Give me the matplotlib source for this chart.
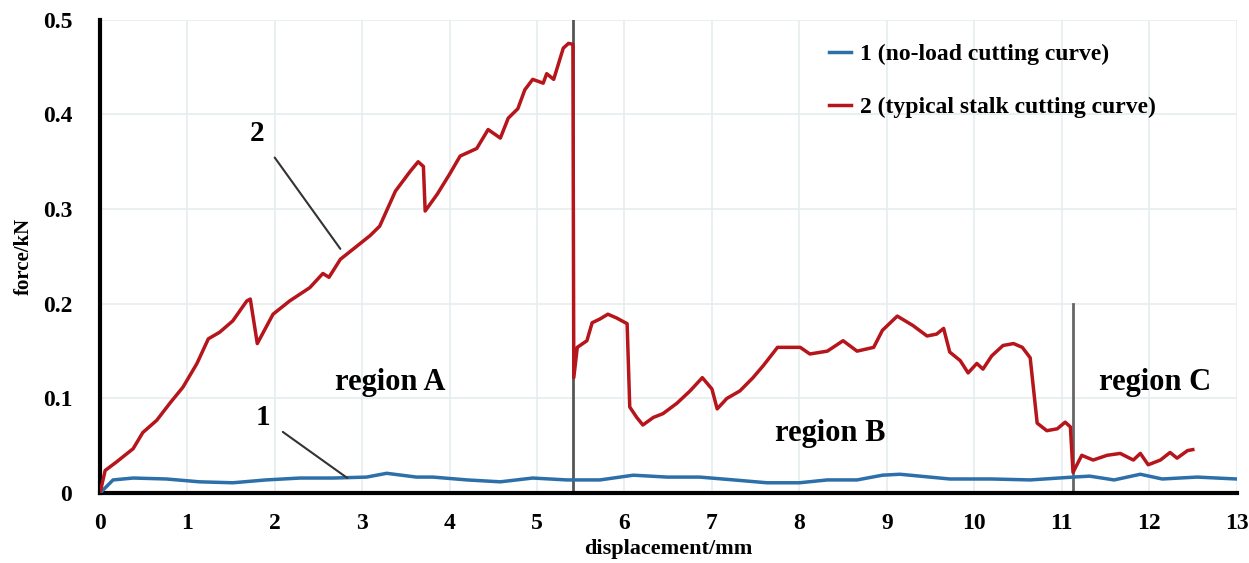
import matplotlib.pyplot as plt

# curve 2 - typical stalk cutting
stalkX = [0, 0.06, 0.19, 0.38, 0.49, 0.65, 0.8, 0.95, 1.11, 1.24, 1.37, 1.52, 1.68, 1.72, 1.8,
          1.98, 2.17, 2.4, 2.55, 2.62, 2.75, 2.9, 3.09, 3.2, 3.38, 3.55, 3.64, 3.7, 3.72, 3.86,
          4.0, 4.12, 4.31, 4.44, 4.58, 4.67, 4.78, 4.86, 4.95, 5.07, 5.11, 5.19, 5.3, 5.36, 5.41,
          5.42, 5.46, 5.57, 5.63, 5.72, 5.81, 5.91, 6.03, 6.06, 6.14, 6.21, 6.33, 6.44, 6.6,
          6.75, 6.89, 7.0, 7.06, 7.17, 7.32, 7.47, 7.59, 7.75, 7.89, 8.01, 8.12, 8.32, 8.5, 8.66,
          8.85, 8.95, 9.12, 9.3, 9.46, 9.57, 9.65, 9.72, 9.84, 9.93, 10.03, 10.1, 10.2, 10.33,
          10.45, 10.55, 10.64, 10.72, 10.83, 10.95, 11.04, 11.1, 11.13, 11.23, 11.36, 11.52,
          11.67, 11.82, 11.9, 11.99, 12.13, 12.24, 12.32, 12.44, 12.5]
stalkY = [0, 0.024, 0.033, 0.047, 0.064, 0.077, 0.095, 0.112, 0.137, 0.163, 0.17, 0.182, 0.203,
          0.205, 0.158, 0.189, 0.203, 0.217, 0.232, 0.228, 0.247, 0.258, 0.272, 0.282, 0.319,
          0.34, 0.35, 0.345, 0.298, 0.316, 0.337, 0.356, 0.364, 0.384, 0.375, 0.396, 0.406,
          0.426, 0.437, 0.433, 0.443, 0.437, 0.47, 0.475, 0.474, 0.122, 0.154, 0.161, 0.18,
          0.184, 0.189, 0.185, 0.179, 0.091, 0.08, 0.072, 0.08, 0.084, 0.095, 0.108, 0.122,
          0.11, 0.089, 0.1, 0.108, 0.122, 0.135, 0.154, 0.154, 0.154, 0.147, 0.15, 0.161, 0.15,
          0.154, 0.172, 0.187, 0.177, 0.166, 0.168, 0.174, 0.149, 0.14, 0.127, 0.137, 0.131,
          0.145, 0.156, 0.158, 0.154, 0.143, 0.074, 0.066, 0.068, 0.075, 0.07, 0.022, 0.04,
          0.035, 0.04, 0.042, 0.035, 0.042, 0.03, 0.035, 0.043, 0.037, 0.045, 0.046]

# curve 1 - no-load cutting
noLoadX = [0, 0.15, 0.38, 0.76, 1.14, 1.52, 1.9, 2.29, 2.67, 3.05, 3.28, 3.62, 3.81, 4.2, 4.58,
           4.95, 5.34, 5.72, 6.1, 6.49, 6.86, 7.25, 7.63, 8.0, 8.32, 8.66, 8.95, 9.15, 9.72,
           10.2, 10.64, 11.13, 11.32, 11.6, 11.9, 12.15, 12.55, 13.0]
noLoadY = [0, 0.014, 0.016, 0.015, 0.012, 0.011, 0.014, 0.016, 0.016, 0.017, 0.021, 0.017,
           0.017, 0.014, 0.012, 0.016, 0.014, 0.014, 0.019, 0.017, 0.017, 0.014, 0.011, 0.011,
           0.014, 0.014, 0.019, 0.02, 0.015, 0.015, 0.014, 0.017, 0.018, 0.014, 0.02, 0.015,
           0.017, 0.015]

xTicks = list(range(0, 14))
yTicks = [0, 0.1, 0.2, 0.3, 0.4, 0.5]
yTickLabels = ['0', '0.1', '0.2', '0.3', '0.4', '0.5']

boundaryA = 5.41
boundaryC = 11.13

plt.rcParams['font.family'] = ['Liberation Serif', 'DejaVu Serif']
plt.rcParams['font.weight'] = 'bold'

fig = plt.figure(figsize=(12.49, 5.63), dpi=100)
ax = fig.add_axes([0.080, 0.124, 0.910, 0.841])

#Grid
ax.set_axisbelow(True)
ax.grid(True, color='#e6ecf0', linewidth=1.2)

#Region boundaries
ax.plot([boundaryA, boundaryA], [0, 0.5], color='#555555', linewidth=2, zorder=2)
ax.plot([boundaryC, boundaryC], [0, 0.2], color='#666666', linewidth=2, zorder=2)

#Curves
ax.plot(noLoadX, noLoadY, color='#2c6fa9', linewidth=2.5, label='1 (no-load cutting curve)', zorder=3)
ax.plot(stalkX, stalkY, color='#b5151b', linewidth=2.5, label='2 (typical stalk cutting curve)', zorder=3)

#Annotations
ax.annotate('2', xy=(2.75, 0.258), xytext=(1.8, 0.38), fontsize=21, fontweight='bold',
            ha='center', va='center',
            arrowprops=dict(arrowstyle='-', color='#333333', lw=1.5, shrinkA=9, shrinkB=0))
ax.annotate('1', xy=(2.83, 0.016), xytext=(1.86, 0.08), fontsize=21, fontweight='bold',
            ha='center', va='center',
            arrowprops=dict(arrowstyle='-', color='#333333', lw=1.5, shrinkA=9, shrinkB=0))

ax.text(3.32, 0.117, 'region A', fontsize=22, fontweight='bold', ha='center', va='center')
ax.text(8.35, 0.063, 'region B', fontsize=22, fontweight='bold', ha='center', va='center')
ax.text(12.07, 0.117, 'region C', fontsize=22, fontweight='bold', ha='center', va='center')

#Axes
ax.set_xlim(0, 13)
ax.set_ylim(0, 0.5)
ax.set_xticks(xTicks)
ax.set_yticks(yTicks)
ax.set_yticklabels(yTickLabels)
ax.tick_params(axis='x', length=0, labelsize=17, pad=14)
ax.tick_params(axis='y', length=0, labelsize=17, pad=20)
for lab in ax.get_xticklabels() + ax.get_yticklabels():
    lab.set_fontweight('bold')

ax.spines['top'].set_visible(False)
ax.spines['right'].set_visible(False)
ax.spines['left'].set_linewidth(3)
ax.spines['bottom'].set_linewidth(3)

ax.set_xlabel('displacement/mm', fontsize=16, fontweight='bold', labelpad=4)
ax.set_ylabel('force/kN', fontsize=15, fontweight='bold', labelpad=6)

leg = ax.legend(loc='upper left', bbox_to_anchor=(0.623, 0.995), frameon=False, fontsize=17,
                handlelength=0.9, labelspacing=1.35, handletextpad=0.4)
for t in leg.get_texts():
    t.set_fontweight('bold')

fig.savefig('out.png', dpi=100)
